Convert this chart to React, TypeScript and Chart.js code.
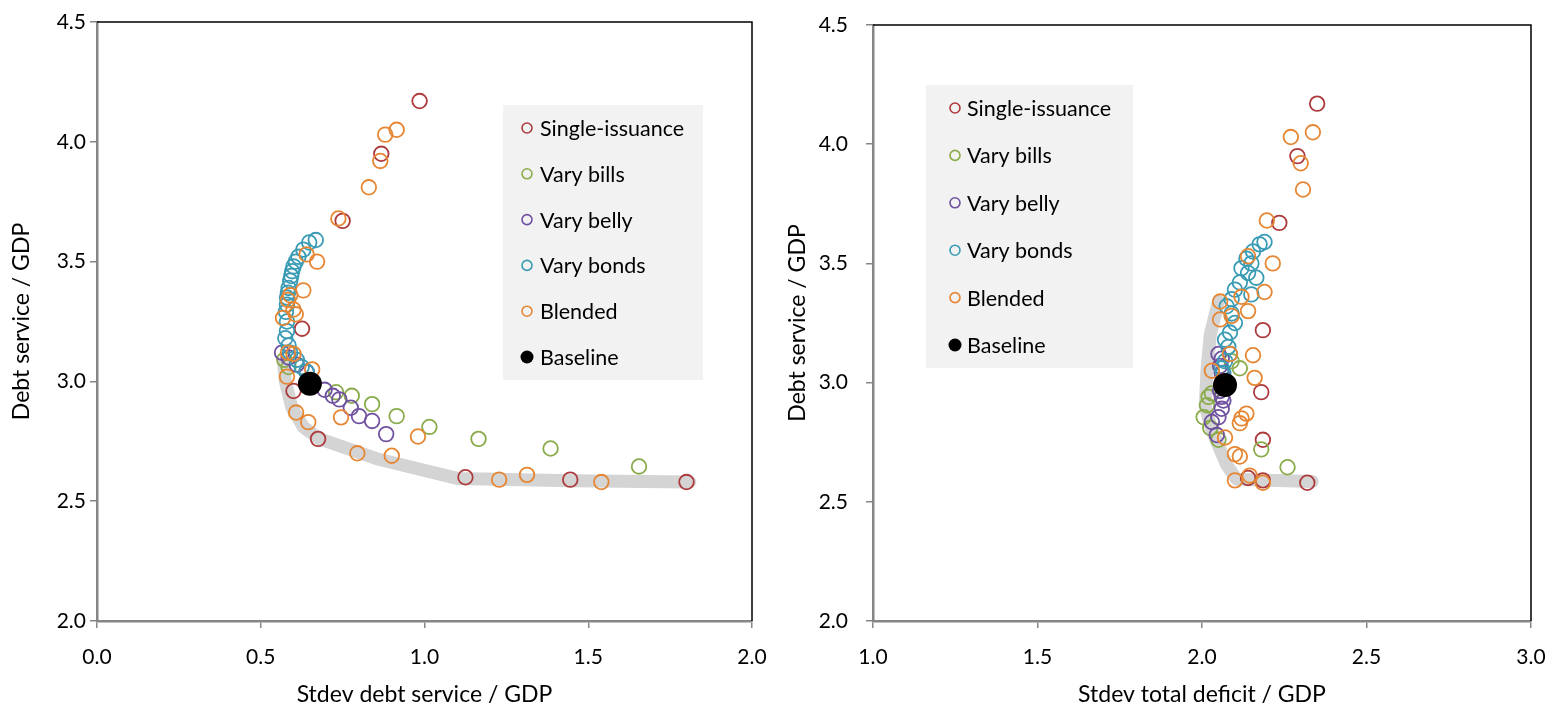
import { useEffect, useRef } from "react"
import { Chart, registerables } from "chart.js"

Chart.register(...registerables)

const FONT = "Lato, 'Noto Sans', sans-serif"

// y (debt service / GDP) is shared by both panels, x differs per panel
const singleY = [4.17, 3.95, 3.67, 3.22, 2.96, 2.76, 2.6, 2.59, 2.58]
const singleDebtSd = [0.985, 0.868, 0.75, 0.626, 0.6, 0.675, 1.125, 1.445, 1.8]
const singleDeficitSd = [2.35, 2.29, 2.235, 2.185, 2.18, 2.185, 2.14, 2.185, 2.32]

const billsY = [3.09, 3.06, 2.955, 2.94, 2.905, 2.855, 2.81, 2.76, 2.72, 2.645]
const billsDebtSd = [0.572, 0.585, 0.73, 0.778, 0.84, 0.915, 1.015, 1.165, 1.385, 1.655]
const billsDeficitSd = [2.09, 2.115, 2.03, 2.02, 2.015, 2.005, 2.025, 2.05, 2.18, 2.26]

const bellyY = [3.12, 3.1, 3.07, 3.04, 2.965, 2.94, 2.925, 2.89, 2.855, 2.835, 2.78]
const bellyDebtSd = [0.565, 0.585, 0.61, 0.64, 0.695, 0.72, 0.74, 0.775, 0.8, 0.84, 0.883]
const bellyDeficitSd = [2.05, 2.06, 2.055, 2.06, 2.055, 2.06, 2.065, 2.06, 2.05, 2.03, 2.045]

const bondsY = [3.59, 3.58, 3.55, 3.52, 3.5, 3.48, 3.46, 3.44, 3.42, 3.39, 3.37, 3.35, 3.32, 3.29, 3.25, 3.21, 3.18, 3.15, 3.12, 3.09, 3.06, 3.04]
const bondsDebtSd = [0.668, 0.648, 0.63, 0.615, 0.607, 0.6, 0.596, 0.593, 0.59, 0.585, 0.583, 0.58, 0.58, 0.577, 0.58, 0.58, 0.575, 0.585, 0.59, 0.61, 0.625, 0.64]
const bondsDeficitSd = [2.19, 2.175, 2.155, 2.135, 2.15, 2.12, 2.14, 2.165, 2.115, 2.1, 2.15, 2.09, 2.075, 2.09, 2.1, 2.085, 2.07, 2.08, 2.085, 2.07, 2.06, 2.065]

const blendedY = [4.05, 4.03, 3.92, 3.81, 3.68, 3.53, 3.5, 3.38, 3.36, 3.34, 3.3, 3.28, 3.265, 3.12, 3.115, 3.05, 3.02, 2.87, 2.85, 2.83, 2.77, 2.7, 2.69, 2.61, 2.59, 2.58]
const blendedDebtSd = [0.915, 0.88, 0.865, 0.83, 0.737, 0.64, 0.672, 0.63, 0.59, 0.583, 0.6, 0.607, 0.568, 0.583, 0.6, 0.657, 0.58, 0.608, 0.745, 0.645, 0.98, 0.795, 0.9, 1.313, 1.228, 1.54]
const blendedDeficitSd = [2.337, 2.27, 2.3, 2.307, 2.197, 2.14, 2.215, 2.19, 2.12, 2.055, 2.14, 2.09, 2.055, 2.085, 2.155, 2.03, 2.16, 2.135, 2.12, 2.115, 2.07, 2.1, 2.115, 2.145, 2.1, 2.185]

const baselineY = [2.99]
const baselineDebtSd = [0.65]
const baselineDeficitSd = [2.07]

// efficient frontier (grey band)
const frontierDebtX = [0.57, 0.575, 0.595, 0.63, 0.68, 0.86, 1.1, 1.45, 1.81]
const frontierDebtY = [3.08, 3.0, 2.89, 2.81, 2.76, 2.675, 2.595, 2.585, 2.58]
const frontierDeficitX = [2.05, 2.025, 2.015, 2.01, 2.03, 2.075, 2.105, 2.2, 2.335]
const frontierDeficitY = [3.34, 3.2, 3.05, 2.9, 2.8, 2.655, 2.595, 2.59, 2.585]

const seriesDefs = [
  { label: "Single-issuance", color: "#ad3a3c", y: singleY, debt: singleDebtSd, deficit: singleDeficitSd },
  { label: "Vary bills", color: "#8aab4a", y: billsY, debt: billsDebtSd, deficit: billsDeficitSd },
  { label: "Vary belly", color: "#6f51a0", y: bellyY, debt: bellyDebtSd, deficit: bellyDeficitSd },
  { label: "Vary bonds", color: "#3a9bb5", y: bondsY, debt: bondsDebtSd, deficit: bondsDeficitSd },
  { label: "Blended", color: "#e68632", y: blendedY, debt: blendedDebtSd, deficit: blendedDeficitSd },
]

const zip = (xs: number[], ys: number[]) => xs.map((x, i) => ({ x, y: ys[i] }))

interface PanelProps {
  left: number
  width: number
  which: "debt" | "deficit"
  xMin: number
  xMax: number
  xTitle: string
  plotLeft: number
  padTop: number
  padRight: number
  yLabelPad: number
  legend: { x: number; y: number; w: number; h: number; markerDx: number; textDx: number }
}

function Panel(props: PanelProps) {
  const chartRef = useRef<HTMLCanvasElement>(null)
  const chartInstance = useRef<Chart | null>(null)

  useEffect(() => {
    if (!chartRef.current) return
    if (chartInstance.current) chartInstance.current.destroy()
    const ctx = chartRef.current.getContext("2d")
    if (!ctx) return

    const datasets: any[] = []
    datasets.push({
      label: "Baseline",
      data: zip(props.which === "debt" ? baselineDebtSd : baselineDeficitSd, baselineY),
      pointRadius: 12,
      pointBackgroundColor: "#000",
      pointBorderColor: "#000",
      pointBorderWidth: 0,
      showLine: false,
      order: 0,
    })
    seriesDefs.forEach((s, i) => {
      datasets.push({
        label: s.label,
        data: zip(props.which === "debt" ? s.debt : s.deficit, s.y),
        pointRadius: 7.3,
        pointBorderWidth: 1.8,
        pointBorderColor: s.color,
        pointBackgroundColor: "rgba(0,0,0,0)",
        borderColor: s.color,
        showLine: false,
        order: 5 - i,
      })
    })
    datasets.push({
      label: "Frontier",
      data:
        props.which === "debt"
          ? zip(frontierDebtX, frontierDebtY)
          : zip(frontierDeficitX, frontierDeficitY),
      showLine: true,
      borderColor: "#d4d4d4",
      borderWidth: 13,
      borderCapStyle: "round",
      borderJoinStyle: "round",
      pointRadius: 0,
      order: 10,
    })

    const lg = props.legend
    const legendPlugin = {
      id: "boxLegend",
      afterDraw(chart: Chart) {
        const c = chart.ctx
        c.save()
        c.fillStyle = "#f2f2f2"
        c.fillRect(lg.x, lg.y, lg.w, lg.h)
        const items = [...seriesDefs.map((s) => ({ label: s.label, color: s.color, filled: false })), { label: "Baseline", color: "#000", filled: true }]
        const step = (lg.h - 46) / (items.length - 1)
        items.forEach((it, i) => {
          const cy = lg.y + 23 + i * step
          c.beginPath()
          if (it.filled) {
            c.arc(lg.x + lg.markerDx, cy, 6.5, 0, Math.PI * 2)
            c.fillStyle = "#000"
            c.fill()
          } else {
            c.arc(lg.x + lg.markerDx, cy, 5, 0, Math.PI * 2)
            c.strokeStyle = it.color
            c.lineWidth = 1.6
            c.stroke()
          }
          c.fillStyle = "#000"
          c.font = `21.5px ${FONT}`
          c.textBaseline = "middle"
          c.textAlign = "left"
          c.fillText(it.label, lg.x + lg.textDx, cy + 1)
        })
        // frame: top and right edges
        const a = chart.chartArea
        c.strokeStyle = "#000"
        c.lineWidth = 1.5
        c.beginPath()
        c.moveTo(a.left, a.top)
        c.lineTo(a.right, a.top)
        c.lineTo(a.right, a.bottom)
        c.stroke()
        c.restore()
      },
    }

    const tickFont = { family: FONT, size: 21 }
    const axisGrid = {
      display: true,
      drawOnChartArea: false,
      drawTicks: true,
      tickLength: 7,
      color: "#868686",
      lineWidth: 1.5,
    }
    const axisBorder = { display: true, color: "#868686", width: 2.5 }

    chartInstance.current = new Chart(ctx, {
      type: "scatter",
      data: { datasets },
      plugins: [legendPlugin],
      options: {
        responsive: true,
        maintainAspectRatio: false,
        animation: false,
        layout: { padding: { top: props.padTop, right: props.padRight, left: 0, bottom: 0 } },
        plugins: {
          legend: { display: false },
          tooltip: { enabled: false },
        },
        scales: {
          x: {
            type: "linear",
            min: props.xMin,
            max: props.xMax,
            ticks: {
              stepSize: 0.5,
              color: "#000",
              font: tickFont,
              padding: 17,
              callback: (v: any) => Number(v).toFixed(1),
            },
            grid: axisGrid,
            border: axisBorder,
            title: {
              display: true,
              text: props.xTitle,
              color: "#000",
              font: { family: FONT, size: 23 },
              padding: { top: 0, bottom: 1 },
            },
            afterFit: (s: any) => {
              s.height = 88
              s.paddingLeft = 0
              s.paddingRight = 0
            },
          },
          y: {
            type: "linear",
            min: 2,
            max: 4.5,
            ticks: {
              stepSize: 0.5,
              color: "#000",
              font: tickFont,
              padding: props.yLabelPad,
              callback: (v: any) => Number(v).toFixed(1),
            },
            grid: axisGrid,
            border: axisBorder,
            title: {
              display: true,
              text: "Debt service / GDP",
              color: "#000",
              font: { family: FONT, size: 23 },
              padding: { top: 8, bottom: 0 },
            },
            afterFit: (s: any) => {
              s.width = props.plotLeft
              s.paddingTop = 0
              s.paddingBottom = 0
            },
          },
        },
      } as any,
    })

    return () => {
      if (chartInstance.current) {
        chartInstance.current.destroy()
        chartInstance.current = null
      }
    }
  }, [])

  return (
    <div style={{ position: "absolute", left: props.left, top: 0, width: props.width, height: 709 }}>
      <canvas ref={chartRef} />
    </div>
  )
}

export default function App() {
  return (
    <div style={{ position: "fixed", left: 0, top: 0, width: 1553, height: 709, background: "#fff" }}>
      <Panel
        left={0}
        width={776}
        which="debt"
        xMin={0}
        xMax={2}
        xTitle="Stdev debt service / GDP"
        plotLeft={97}
        padTop={22}
        padRight={24}
        yLabelPad={4}
        legend={{ x: 503, y: 105, w: 200, h: 275, markerDx: 24, textDx: 37 }}
      />
      <Panel
        left={776}
        width={777}
        which="deficit"
        xMin={1}
        xMax={3}
        xTitle="Stdev total deficit / GDP"
        plotLeft={97}
        padTop={25}
        padRight={22}
        yLabelPad={18}
        legend={{ x: 150, y: 85, w: 207, h: 283, markerDx: 29, textDx: 41 }}
      />
    </div>
  )
}
